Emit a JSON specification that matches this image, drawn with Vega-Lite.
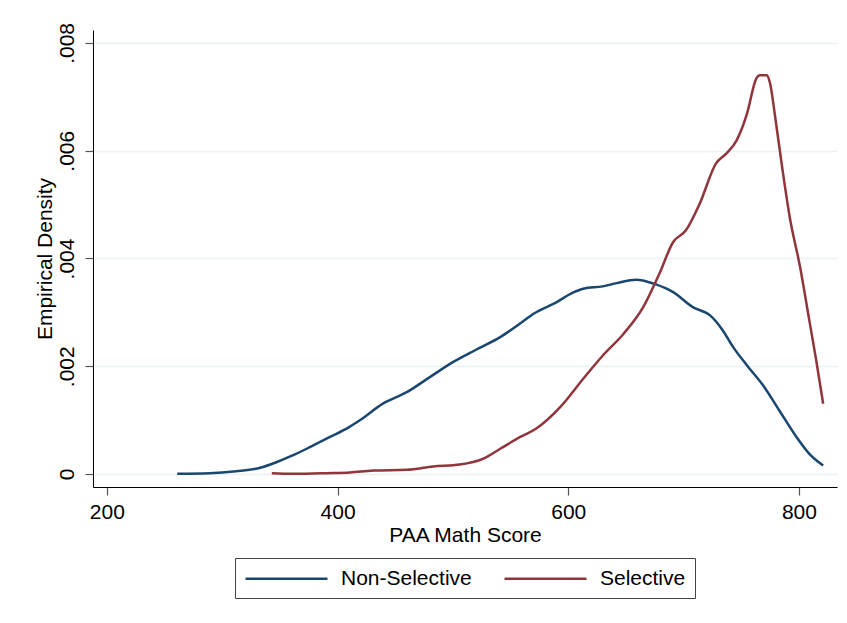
{
  "$schema": "https://vega.github.io/schema/vega-lite/v6.json",
  "width": 744,
  "height": 457,
  "autosize": {"type": "none"},
  "padding": {"left": 93, "top": 30, "right": 10, "bottom": 136},
  "background": "white",
  "config": {
    "view": {"stroke": null},
    "font": "Liberation Sans",
    "axis": {
      "labelFont": "Liberation Sans",
      "titleFont": "Liberation Sans",
      "labelFontSize": 21,
      "titleFontSize": 21,
      "titleFontWeight": "normal",
      "labelColor": "black",
      "titleColor": "black",
      "domainColor": "black",
      "domainWidth": 1,
      "tickColor": "#555555",
      "tickWidth": 1.2,
      "tickSize": 8
    },
    "legend": {
      "layout": {"bottom": {"anchor": "middle"}}
    }
  },
  "data": {
    "values": [
      {"score": 261, "density": 0.000004, "group": "Non-Selective"},
      {"score": 289, "density": 0.000015, "group": "Non-Selective"},
      {"score": 312, "density": 0.000052, "group": "Non-Selective"},
      {"score": 333, "density": 0.000115, "group": "Non-Selective"},
      {"score": 347, "density": 0.000219, "group": "Non-Selective"},
      {"score": 361, "density": 0.000344, "group": "Non-Selective"},
      {"score": 376, "density": 0.000498, "group": "Non-Selective"},
      {"score": 393, "density": 0.000683, "group": "Non-Selective"},
      {"score": 410, "density": 0.000869, "group": "Non-Selective"},
      {"score": 419, "density": 0.000993, "group": "Non-Selective"},
      {"score": 440, "density": 0.001315, "group": "Non-Selective"},
      {"score": 460, "density": 0.001519, "group": "Non-Selective"},
      {"score": 480, "density": 0.001798, "group": "Non-Selective"},
      {"score": 500, "density": 0.002076, "group": "Non-Selective"},
      {"score": 520, "density": 0.002306, "group": "Non-Selective"},
      {"score": 541, "density": 0.00254, "group": "Non-Selective"},
      {"score": 558, "density": 0.002789, "group": "Non-Selective"},
      {"score": 570, "density": 0.002975, "group": "Non-Selective"},
      {"score": 590, "density": 0.00319, "group": "Non-Selective"},
      {"score": 604, "density": 0.003365, "group": "Non-Selective"},
      {"score": 613, "density": 0.003439, "group": "Non-Selective"},
      {"score": 630, "density": 0.003482, "group": "Non-Selective"},
      {"score": 642, "density": 0.003543, "group": "Non-Selective"},
      {"score": 659, "density": 0.003606, "group": "Non-Selective"},
      {"score": 676, "density": 0.003519, "group": "Non-Selective"},
      {"score": 691, "density": 0.003376, "group": "Non-Selective"},
      {"score": 708, "density": 0.003097, "group": "Non-Selective"},
      {"score": 723, "density": 0.002943, "group": "Non-Selective"},
      {"score": 734, "density": 0.002665, "group": "Non-Selective"},
      {"score": 743, "density": 0.002355, "group": "Non-Selective"},
      {"score": 755, "density": 0.002015, "group": "Non-Selective"},
      {"score": 769, "density": 0.001643, "group": "Non-Selective"},
      {"score": 783, "density": 0.001179, "group": "Non-Selective"},
      {"score": 798, "density": 0.000683, "group": "Non-Selective"},
      {"score": 809, "density": 0.000375, "group": "Non-Selective"},
      {"score": 821, "density": 0.000158, "group": "Non-Selective"},
      {"score": 343, "density": 0.000015, "group": "Selective"},
      {"score": 362, "density": 0.000003, "group": "Selective"},
      {"score": 391, "density": 0.000015, "group": "Selective"},
      {"score": 411, "density": 0.000028, "group": "Selective"},
      {"score": 431, "density": 0.000065, "group": "Selective"},
      {"score": 460, "density": 0.000078, "group": "Selective"},
      {"score": 483, "density": 0.000139, "group": "Selective"},
      {"score": 506, "density": 0.000176, "group": "Selective"},
      {"score": 526, "density": 0.000282, "group": "Selective"},
      {"score": 541, "density": 0.000468, "group": "Selective"},
      {"score": 558, "density": 0.000683, "group": "Selective"},
      {"score": 572, "density": 0.000839, "group": "Selective"},
      {"score": 593, "density": 0.00124, "group": "Selective"},
      {"score": 613, "density": 0.001768, "group": "Selective"},
      {"score": 630, "density": 0.0022, "group": "Selective"},
      {"score": 648, "density": 0.002604, "group": "Selective"},
      {"score": 665, "density": 0.003097, "group": "Selective"},
      {"score": 679, "density": 0.003718, "group": "Selective"},
      {"score": 691, "density": 0.004305, "group": "Selective"},
      {"score": 702, "density": 0.004522, "group": "Selective"},
      {"score": 714, "density": 0.005018, "group": "Selective"},
      {"score": 728, "density": 0.00576, "group": "Selective"},
      {"score": 737, "density": 0.005946, "group": "Selective"},
      {"score": 746, "density": 0.006193, "group": "Selective"},
      {"score": 755, "density": 0.006689, "group": "Selective"},
      {"score": 763, "density": 0.007339, "group": "Selective"},
      {"score": 766, "density": 0.0074, "group": "Selective"},
      {"score": 772, "density": 0.0074, "group": "Selective"},
      {"score": 775, "density": 0.007246, "group": "Selective"},
      {"score": 779, "density": 0.006689, "group": "Selective"},
      {"score": 785, "density": 0.00576, "group": "Selective"},
      {"score": 792, "density": 0.004769, "group": "Selective"},
      {"score": 801, "density": 0.00384, "group": "Selective"},
      {"score": 809, "density": 0.002851, "group": "Selective"},
      {"score": 815, "density": 0.002108, "group": "Selective"},
      {"score": 821, "density": 0.001304, "group": "Selective"}
    ]
  },
  "mark": {"type": "line", "strokeWidth": 2.5, "interpolate": "monotone"},
  "encoding": {
    "x": {
      "field": "score",
      "type": "quantitative",
      "title": "PAA Math Score",
      "scale": {"domain": [188, 833], "nice": false, "zero": false},
      "axis": {
        "values": [200, 400, 600, 800],
        "grid": false,
        "labelPadding": 6,
        "titlePadding": 2
      }
    },
    "y": {
      "field": "density",
      "type": "quantitative",
      "title": "Empirical Density",
      "scale": {"domain": [-0.000241, 0.00824], "nice": false, "zero": false},
      "axis": {
        "values": [0, 0.002, 0.004, 0.006, 0.008],
        "labelExpr": "datum.value == 0 ? '0' : replace(format(datum.value, '.3f'), /^0/, '')",
        "labelAngle": 270,
        "labelAlign": "center",
        "labelBaseline": "bottom",
        "labelPadding": 8,
        "titlePadding": 1,
        "grid": true,
        "gridColor": "#eaf2f3",
        "gridWidth": 1.5
      }
    },
    "color": {
      "field": "group",
      "type": "nominal",
      "scale": {"domain": ["Non-Selective", "Selective"], "range": ["#1a476f", "#90353b"]},
      "legend": {
        "title": null,
        "orient": "bottom",
        "direction": "horizontal",
        "offset": 13,
        "symbolType": "M -4.1 0 L 4.1 0",
        "symbolSize": 400,
        "symbolOffset": 31,
        "symbolStrokeWidth": 2.5,
        "labelFont": "Liberation Sans",
        "labelFontSize": 21,
        "labelColor": "black",
        "labelOffset": 43,
        "columnPadding": 27,
        "strokeColor": "#444444",
        "padding": 9
      }
    }
  }
}
